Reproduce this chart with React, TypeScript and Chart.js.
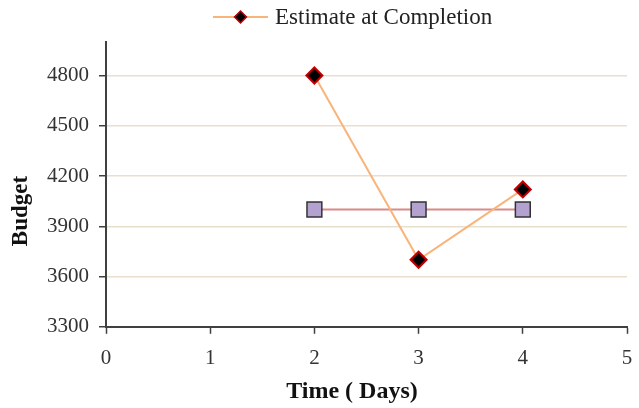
import React, { useEffect, useRef } from "react";
import { Chart, registerables } from "chart.js";

Chart.register(...registerables);

const days = [2, 3, 4];
const estimateAtCompletion = [4800, 3700, 4120];
const plannedBudget = [4000, 4000, 4000];
const yTickValues = [3300, 3600, 3900, 4200, 4500, 4800];
const legendLabel = "Estimate at Completion";
const xTitle = "Time ( Days)";
const yTitle = "Budget";

const FONT = "'Liberation Serif', 'Times New Roman', serif";

const decorPlugin = {
  id: "decor",
  afterDraw(chart: any) {
    const ctx = chart.ctx;
    ctx.save();
    // legend
    const y = 17;
    const x0 = 213;
    const x1 = 268;
    ctx.strokeStyle = "#f8b47a";
    ctx.lineWidth = 2;
    ctx.beginPath();
    ctx.moveTo(x0, y);
    ctx.lineTo(x1, y);
    ctx.stroke();
    const cx = (x0 + x1) / 2;
    const r = 6;
    ctx.beginPath();
    ctx.moveTo(cx, y - r);
    ctx.lineTo(cx + r, y);
    ctx.lineTo(cx, y + r);
    ctx.lineTo(cx - r, y);
    ctx.closePath();
    ctx.fillStyle = "#000000";
    ctx.fill();
    ctx.strokeStyle = "#c00000";
    ctx.lineWidth = 1.5;
    ctx.stroke();
    ctx.fillStyle = "#222222";
    ctx.font = `23px ${FONT}`;
    ctx.textBaseline = "middle";
    ctx.textAlign = "left";
    ctx.fillText(legendLabel, 275, y + 1);
    // axis titles
    ctx.fillStyle = "#111111";
    ctx.font = `bold 24px ${FONT}`;
    ctx.textAlign = "center";
    ctx.fillText(xTitle, 352, 392);
    ctx.translate(21, 211);
    ctx.rotate(-Math.PI / 2);
    ctx.font = `bold 23px ${FONT}`;
    ctx.fillText(yTitle, 0, 0);
    ctx.restore();
  },
};

export default function App() {
  const canvasRef = useRef<HTMLCanvasElement | null>(null);

  useEffect(() => {
    document.body.style.margin = "0";
    const canvas = canvasRef.current;
    if (!canvas) return;
    const chart = new Chart(canvas, {
      type: "line",
      data: {
        datasets: [
          {
            label: legendLabel,
            data: days.map((d, i) => ({ x: d, y: estimateAtCompletion[i] })),
            borderColor: "#f8b47a",
            borderWidth: 2,
            pointStyle: "rectRot",
            pointRadius: 8,
            pointBackgroundColor: "#000000",
            pointBorderColor: "#c00000",
            pointBorderWidth: 2,
            tension: 0,
          },
          {
            label: "Budget",
            data: days.map((d, i) => ({ x: d, y: plannedBudget[i] })),
            borderColor: "#d98a8a",
            borderWidth: 2,
            pointStyle: "rect",
            pointRadius: 10.5,
            pointBackgroundColor: "#b3a2cf",
            pointBorderColor: "#333333",
            pointBorderWidth: 1.5,
            tension: 0,
          },
        ],
      },
      options: {
        animation: false,
        responsive: false,
        layout: { padding: { top: 42, right: 12, left: 37, bottom: 25 } },
        plugins: {
          legend: { display: false },
          tooltip: { enabled: false },
        },
        scales: {
          x: {
            type: "linear",
            min: 0,
            max: 5,
            afterFit: (scale: any) => {
              scale.paddingRight = 0;
              scale.paddingLeft = 0;
            },
            ticks: {
              stepSize: 1,
              color: "#333333",
              font: { family: FONT, size: 21 },
              padding: 12,
            },
            grid: {
              drawOnChartArea: false,
              tickColor: "#404040",
              tickLength: 7,
              tickWidth: 1.5,
            },
            border: { color: "#404040", width: 2 },
          },
          y: {
            type: "linear",
            min: 3300,
            max: 5000,
            afterBuildTicks: (scale: any) => {
              scale.ticks = yTickValues.map((v) => ({ value: v }));
            },
            ticks: {
              color: "#333333",
              font: { family: FONT, size: 21 },
              padding: 10,
              callback: (v: any) => String(v),
            },
            grid: {
              color: (c: any) =>
                c.tick && c.tick.value === 3300 ? "rgba(0,0,0,0)" : "#e8dfcf",
              lineWidth: 1.5,
              tickColor: "#404040",
              tickLength: 7,
              tickWidth: 1.5,
            },
            border: { color: "#404040", width: 2 },
          },
        },
      },
      plugins: [decorPlugin],
    });
    return () => chart.destroy();
  }, []);

  return (
    <div style={{ width: 639, height: 408 }}>
      <canvas ref={canvasRef} width={639} height={408} />
    </div>
  );
}
